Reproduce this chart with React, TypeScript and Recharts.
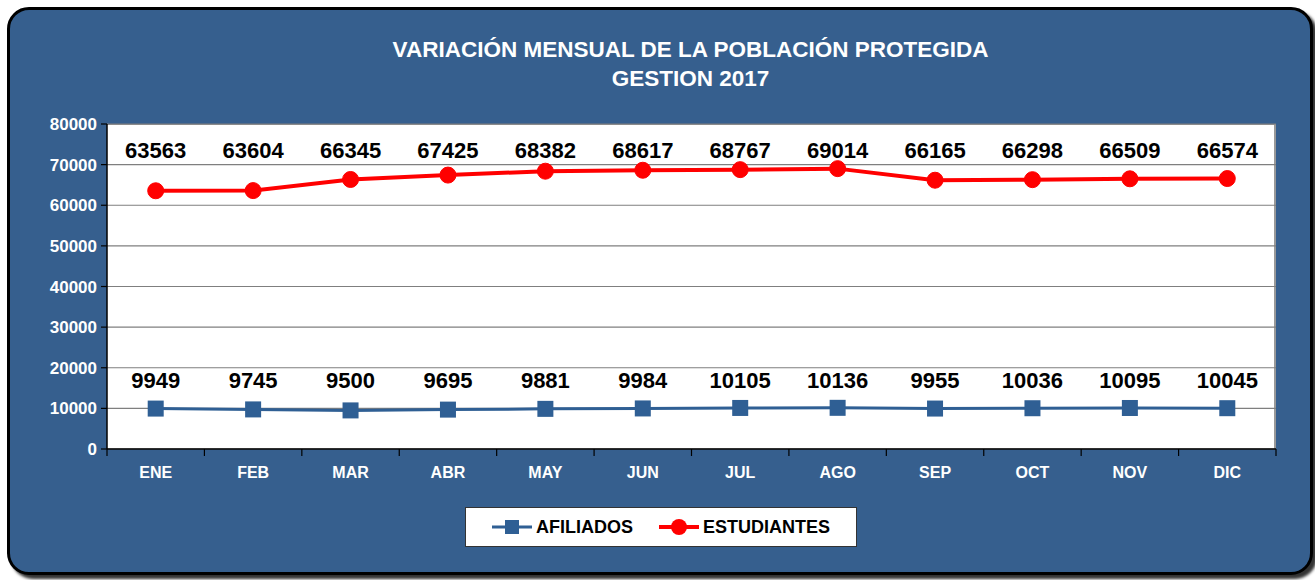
import { LineChart, Line, XAxis, YAxis, CartesianGrid, LabelList } from 'recharts';

const months = ['ENE', 'FEB', 'MAR', 'ABR', 'MAY', 'JUN', 'JUL', 'AGO', 'SEP', 'OCT', 'NOV', 'DIC'];
const afiliados = [9949, 9745, 9500, 9695, 9881, 9984, 10105, 10136, 9955, 10036, 10095, 10045];
const estudiantes = [63563, 63604, 66345, 67425, 68382, 68617, 68767, 69014, 66165, 66298, 66509, 66574];
const yTicks = [0, 10000, 20000, 30000, 40000, 50000, 60000, 70000, 80000];

const data = months.map((m, i) => ({ month: m, afiliados: afiliados[i], estudiantes: estudiantes[i] }));

const W = 1315;
const H = 580;
const PLOT = { left: 107, top: 124, right: 1276, bottom: 449 };
const BAND = (PLOT.right - PLOT.left) / months.length;
const X_AXIS_H = 60;
const Y_AXIS_W = 60;
const FONT = '"Liberation Sans", Arial, sans-serif';
const BLUE = '#2F5F94';
const RED = '#FF0000';

// value labels sit on a fixed row like in the original sheet
const makeLabel = (fixedY: number) => (props: any) => {
    const { x, value } = props;
    return (
        <text x={x} y={fixedY} textAnchor="middle" fontFamily={FONT} fontWeight="bold" fontSize={22} fill="#000">
            {value}
        </text>
    );
};

const XTick = (props: any) => {
    const { x, y, payload, index } = props;
    const isLast = index === months.length - 1;
    return (
        <g>
            <line x1={x - BAND / 2} x2={x - BAND / 2} y1={PLOT.bottom} y2={PLOT.bottom + 7} stroke="#000" strokeWidth={1.2} />
            {isLast && <line x1={x + BAND / 2} x2={x + BAND / 2} y1={PLOT.bottom} y2={PLOT.bottom + 7} stroke="#000" strokeWidth={1.2} />}
            <text x={x} y={y + 21} textAnchor="middle" fontFamily={FONT} fontWeight="bold" fontSize={16} fill="#fff">
                {payload.value}
            </text>
        </g>
    );
};

const LegendBox = () => (
    <div style={{
        position: 'absolute', left: 465, top: 507,
        width: 390, height: 38, background: '#fff', border: '1px solid #333',
        display: 'flex', alignItems: 'center', justifyContent: 'center', gap: 26,
        fontFamily: FONT, fontWeight: 'bold', fontSize: 18, color: '#000'
    }}>
        <div style={{ display: 'flex', alignItems: 'center', gap: 4 }}>
            <svg width={40} height={16}>
                <line x1={0} x2={40} y1={8} y2={8} stroke={BLUE} strokeWidth={3} />
                <rect x={13} y={1} width={14} height={14} fill={BLUE} />
            </svg>
            <span>AFILIADOS</span>
        </div>
        <div style={{ display: 'flex', alignItems: 'center', gap: 4 }}>
            <svg width={40} height={18}>
                <line x1={0} x2={40} y1={9} y2={9} stroke={RED} strokeWidth={4} />
                <circle cx={20} cy={9} r={8} fill={RED} />
            </svg>
            <span>ESTUDIANTES</span>
        </div>
    </div>
);

export default function App() {
    return (
        <div style={{ position: 'absolute', left: 0, top: 0, width: W, height: H, background: '#fff', overflow: 'hidden' }}>
            <div style={{
                position: 'absolute', left: 7, top: 7, width: 1300, height: 562,
                background: '#365F8E', border: '3px solid #000', borderRadius: 22,
                boxShadow: '4px 4px 3px rgba(0,0,0,0.8)'
            }} />
            <div style={{
                position: 'absolute', left: PLOT.left, top: PLOT.top,
                width: PLOT.right - PLOT.left, height: PLOT.bottom - PLOT.top,
                background: '#fff', borderRight: '2px solid #999', borderTop: '1px solid #999', boxSizing: 'border-box'
            }} />
            <div style={{
                position: 'absolute', left: 66, width: W - 66, top: 35, textAlign: 'center',
                fontFamily: FONT, fontWeight: 'bold', fontSize: 22.5, color: '#fff', lineHeight: '29px'
            }}>
                <div>VARIACIÓN MENSUAL DE LA POBLACIÓN PROTEGIDA</div>
                <div>GESTION 2017</div>
            </div>
            <div style={{ position: 'absolute', left: 0, top: 0 }}>
                <LineChart
                    width={W}
                    height={H}
                    data={data}
                    margin={{
                        left: PLOT.left - Y_AXIS_W,
                        right: W - PLOT.right,
                        top: PLOT.top,
                        bottom: H - PLOT.bottom - X_AXIS_H
                    }}
                >
                    <CartesianGrid vertical={false} stroke="#7f7f7f" strokeWidth={1.2} />
                    <XAxis
                        dataKey="month"
                        height={X_AXIS_H}
                        padding={{ left: BAND / 2, right: BAND / 2 }}
                        axisLine={{ stroke: '#000', strokeWidth: 1.5 }}
                        tickLine={false}
                        tick={<XTick />}
                        interval={0}
                    />
                    <YAxis
                        width={Y_AXIS_W}
                        domain={[0, 80000]}
                        ticks={yTicks}
                        interval={0}
                        axisLine={{ stroke: '#000', strokeWidth: 1.5 }}
                        tickLine={{ stroke: '#000', strokeWidth: 1.2 }}
                        tickSize={6}
                        tickMargin={4}
                        tick={{ fill: '#fff', fontFamily: FONT, fontWeight: 'bold', fontSize: 17 }}
                    />
                    <Line
                        name="AFILIADOS"
                        dataKey="afiliados"
                        stroke={BLUE}
                        strokeWidth={3}
                        isAnimationActive={false}
                        dot={(p: any) => <rect key={`a-${p.index}`} x={p.cx - 8} y={p.cy - 8} width={16} height={16} fill={BLUE} />}
                    >
                        <LabelList dataKey="afiliados" content={makeLabel(388)} />
                    </Line>
                    <Line
                        name="ESTUDIANTES"
                        dataKey="estudiantes"
                        stroke={RED}
                        strokeWidth={4}
                        isAnimationActive={false}
                        dot={{ r: 8, fill: RED, stroke: RED, strokeWidth: 1 }}
                    >
                        <LabelList dataKey="estudiantes" content={makeLabel(158)} />
                    </Line>
                </LineChart>
            </div>
            <LegendBox />
        </div>
    );
}
